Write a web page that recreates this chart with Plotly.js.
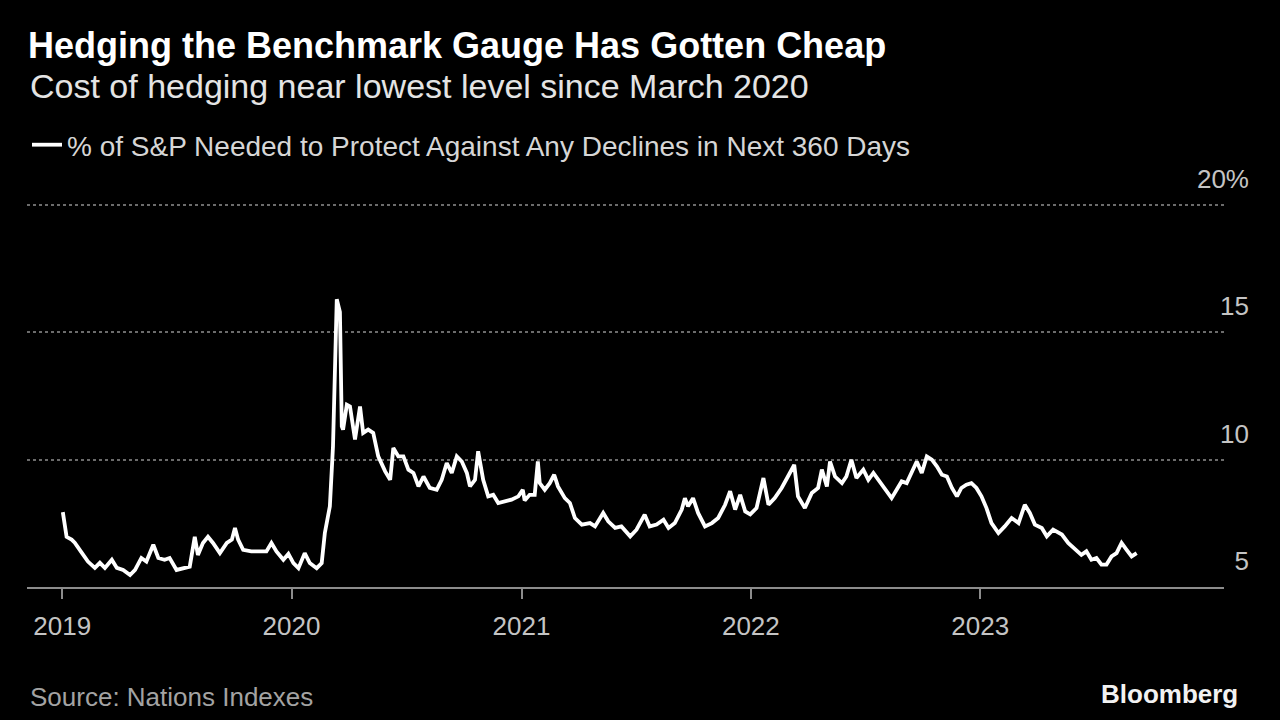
<!DOCTYPE html>
<html>
<head>
<meta charset="utf-8">
<script src="https://cdn.plot.ly/plotly-3.0.1.min.js"></script>
<style>
html,body{margin:0;padding:0;background:#000;}
#chart{width:1280px;height:720px;}
</style>
</head>
<body>
<div id="chart"></div>
<script>
// ---- Data ----
const dates = [
"2019-01-02","2019-01-08","2019-01-16","2019-01-21","2019-02-01","2019-02-11","2019-02-22","2019-03-02","2019-03-10","2019-03-21",
"2019-03-29","2019-04-08","2019-04-19","2019-04-27","2019-05-07","2019-05-15","2019-05-26","2019-06-03","2019-06-13","2019-06-21",
"2019-07-02","2019-07-13","2019-07-23","2019-07-31","2019-08-05","2019-08-13","2019-08-21","2019-08-29","2019-09-09","2019-09-20",
"2019-09-28","2019-10-03","2019-10-08","2019-10-16","2019-10-29","2019-11-14","2019-11-22","2019-11-30","2019-12-08","2019-12-19",
"2019-12-27","2020-01-04","2020-01-12","2020-01-22","2020-01-30","2020-02-10","2020-02-18","2020-02-23","2020-03-02","2020-03-07",
"2020-03-13","2020-03-18","2020-03-21","2020-03-23","2020-03-29","2020-04-03","2020-04-11","2020-04-19","2020-04-24","2020-05-02",
"2020-05-10","2020-05-18","2020-05-29","2020-06-06","2020-06-11","2020-06-19","2020-06-27","2020-07-05","2020-07-13","2020-07-21",
"2020-07-29","2020-08-08","2020-08-19","2020-08-27","2020-09-04","2020-09-12","2020-09-20","2020-09-28","2020-10-06","2020-10-11",
"2020-10-19","2020-10-24","2020-11-01","2020-11-09","2020-11-17","2020-11-25","2020-12-06","2020-12-16","2020-12-27","2021-01-03",
"2021-01-06","2021-01-14","2021-01-22","2021-01-27","2021-01-30","2021-02-07","2021-02-15","2021-02-22","2021-02-28","2021-03-11",
"2021-03-19","2021-03-27","2021-04-07","2021-04-20","2021-04-28","2021-05-11","2021-05-19","2021-05-30","2021-06-09","2021-06-23",
"2021-07-03","2021-07-16","2021-07-24","2021-08-04","2021-08-15","2021-08-23","2021-09-02","2021-09-13","2021-09-18","2021-09-23",
"2021-10-01","2021-10-09","2021-10-20","2021-10-31","2021-11-10","2021-11-21","2021-11-29","2021-12-07","2021-12-15","2021-12-23",
"2021-12-31","2022-01-10","2022-01-21","2022-01-29","2022-02-08","2022-02-19","2022-03-01","2022-03-11","2022-03-17","2022-03-28",
"2022-04-08","2022-04-18","2022-04-24","2022-05-02","2022-05-07","2022-05-15","2022-05-26","2022-06-02","2022-06-10","2022-06-18",
"2022-06-29","2022-07-07","2022-07-15","2022-07-26","2022-08-05","2022-08-13","2022-08-21","2022-08-29","2022-09-06","2022-09-14",
"2022-09-22","2022-09-30","2022-10-08","2022-10-16","2022-10-24","2022-11-01","2022-11-09","2022-11-17","2022-11-25","2022-12-02",
"2022-12-10","2022-12-18","2022-12-26","2023-01-03","2023-01-11","2023-01-19","2023-01-30","2023-02-09","2023-02-20","2023-03-03",
"2023-03-13","2023-03-21","2023-03-29","2023-04-09","2023-04-17","2023-04-27","2023-05-11","2023-05-21","2023-06-01","2023-06-11",
"2023-06-19","2023-06-27","2023-07-05","2023-07-13","2023-07-21","2023-07-29","2023-08-06","2023-08-14","2023-08-22","2023-08-30",
"2023-09-07"
];
const hedgeCost = [
7.94,6.97,6.86,6.74,6.35,6.00,5.75,5.95,5.75,6.07,
5.75,5.67,5.47,5.67,6.14,6.00,6.66,6.14,6.07,6.14,
5.67,5.75,5.80,6.97,6.26,6.73,6.97,6.73,6.33,6.73,
6.86,7.32,6.86,6.46,6.40,6.40,6.40,6.73,6.40,6.07,
6.30,5.94,5.74,6.33,5.94,5.74,5.94,7.12,8.17,10.53,
16.30,15.80,11.31,11.18,12.16,12.09,10.79,12.09,11.05,11.18,
11.05,10.13,9.54,9.21,10.46,10.13,10.13,9.61,9.48,8.95,
9.34,8.89,8.82,9.21,9.87,9.48,10.13,9.93,9.48,8.95,
9.21,10.33,9.21,8.56,8.62,8.30,8.36,8.43,8.56,8.82,
8.40,8.62,8.62,9.93,9.08,8.82,9.08,9.41,8.95,8.49,
8.30,7.71,7.45,7.51,7.38,7.91,7.58,7.32,7.38,6.99,
7.25,7.84,7.38,7.45,7.64,7.32,7.51,8.04,8.49,8.17,
8.49,7.91,7.38,7.51,7.71,8.23,8.76,8.04,8.62,7.97,
7.85,8.10,9.28,8.23,8.49,8.89,9.34,9.80,8.56,8.10,
8.69,8.89,9.61,8.95,9.93,9.34,9.08,9.34,10.00,9.28,
9.61,9.21,9.48,9.08,8.76,8.49,8.82,9.15,9.08,9.48,
9.93,9.48,10.13,10.00,9.74,9.41,9.34,8.89,8.56,8.89,
9.02,9.08,8.89,8.56,8.10,7.51,7.12,7.38,7.71,7.51,
8.23,7.91,7.45,7.32,6.99,7.25,7.06,6.73,6.46,6.26,
6.40,6.07,6.14,5.88,5.88,6.20,6.33,6.73,6.46,6.20,
6.33
];
const seriesName = "% of S&P Needed to Protect Against Any Declines in Next 360 Days";
const xTickVals = ["2019-01-01","2020-01-01","2021-01-01","2022-01-01","2023-01-01"];
const xTickText = ["2019","2020","2021","2022","2023"];
const yTickVals = [5, 10, 15, 20];
const yTickText = ["5", "10", "15", "20%"];
const titleText = "Hedging the Benchmark Gauge Has Gotten Cheap";
const subtitleText = "Cost of hedging near lowest level since March 2020";
const sourceText = "Source: Nations Indexes";
const brandText = "Bloomberg";

// ---- Chart ----
const FONT = "Liberation Sans, Arial, Helvetica, sans-serif";

const trace = {
  type: "scatter",
  mode: "lines",
  x: dates,
  y: hedgeCost,
  name: seriesName,
  line: {color: "#ffffff", width: 3.8},
  hoverinfo: "x+y"
};

// plot area: top 200 px, bottom 587 px -> 387 px for 15.2 units
const PLOT_TOP = 200, PLOT_BOTTOM = 587, PLOT_H = PLOT_BOTTOM - PLOT_TOP;
const py = (pix) => (PLOT_BOTTOM - pix) / PLOT_H; // pixel row -> paper y

const layout = {
  width: 1280,
  height: 720,
  paper_bgcolor: "#000000",
  plot_bgcolor: "#000000",
  margin: {l: 27, r: 56, t: PLOT_TOP, b: 720 - PLOT_BOTTOM, pad: 0},
  font: {family: FONT, color: "#cfcfcf"},
  title: {
    text: "<b>" + titleText + "</b>",
    x: 28 / 1280, xanchor: "left", xref: "container",
    y: 1 - 45 / 720, yanchor: "middle", yref: "container",
    font: {family: FONT, size: 36, color: "#ffffff"}
  },
  showlegend: true,
  legend: {
    x: 0, xanchor: "left",
    y: py(145), yanchor: "middle",
    bgcolor: "rgba(0,0,0,0)",
    font: {family: FONT, size: 28, color: "#d6d6d6"}
  },
  xaxis: {
    type: "date",
    range: ["2018-11-06", "2024-01-24"],
    tickmode: "array",
    tickvals: xTickVals,
    ticktext: xTickText,
    ticks: "outside",
    ticklen: 10,
    tickwidth: 2,
    tickcolor: "#8c8c8c",
    ticklabelstandoff: 5,
    showline: true,
    linecolor: "#8c8c8c",
    linewidth: 2,
    showgrid: false,
    zeroline: false,
    tickfont: {family: FONT, size: 26, color: "#c4c4c4"},
    fixedrange: true
  },
  yaxis: {
    side: "right",
    range: [5, 20.2],
    tickmode: "array",
    tickvals: yTickVals,
    ticktext: yTickText,
    showgrid: true,
    gridcolor: "#6c6c6c",
    griddash: "dot",
    gridwidth: 2,
    zeroline: false,
    showline: false,
    ticks: "",
    ticklabelposition: "inside",
    ticklabelstandoff: -28,
    ticklabelshift: -26,
    ticklabeloverflow: "allow",
    tickfont: {family: FONT, size: 26, color: "#c4c4c4"},
    fixedrange: true
  },
  annotations: [
    {
      text: subtitleText, xref: "paper", yref: "paper",
      x: 1 / 1197, xanchor: "left", y: py(86), yanchor: "middle",
      showarrow: false, font: {family: FONT, size: 34, color: "#e4e4e4"}
    },
    {
      text: sourceText, xref: "paper", yref: "paper",
      x: 1 / 1197, xanchor: "left", y: py(697), yanchor: "middle",
      showarrow: false, font: {family: FONT, size: 26, color: "#a3a3a3"}
    },
    {
      text: "<b>" + brandText + "</b>", xref: "paper", yref: "paper",
      x: 1.0134, xanchor: "right", y: py(694), yanchor: "middle",
      showarrow: false, font: {family: FONT, size: 26, color: "#f2f2f2"}
    }
  ]
};

Plotly.newPlot("chart", [trace], layout, {displayModeBar: false, staticPlot: true});
</script>
</body>
</html>
